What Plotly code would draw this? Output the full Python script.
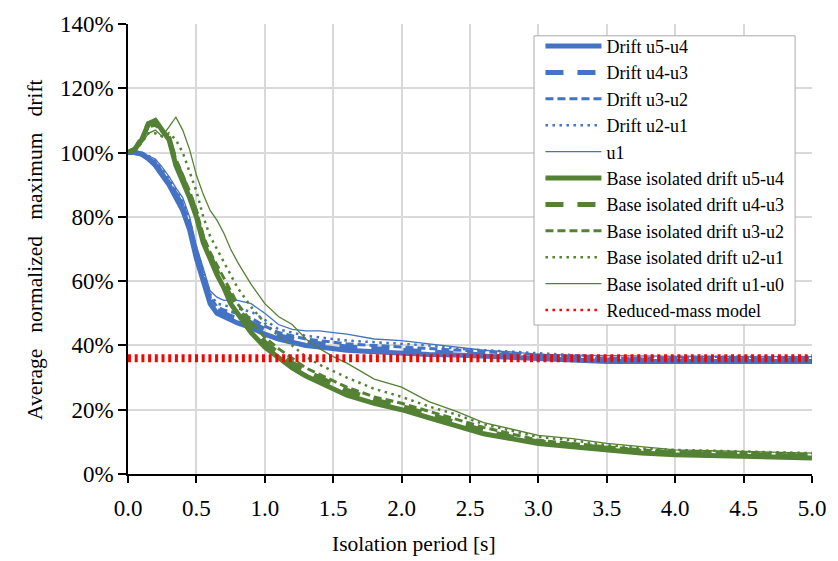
import plotly.graph_objects as go

# Isolation period [s]
period = [0, 0.05, 0.1, 0.15, 0.2, 0.25, 0.3, 0.35, 0.4, 0.45,
          0.5, 0.55, 0.6, 0.65, 0.7, 0.75, 0.8, 0.9,
          1.0, 1.1, 1.2, 1.3, 1.4, 1.5, 1.6, 1.8,
          2.0, 2.2, 2.4, 2.6, 2.8, 3.0,
          3.25, 3.5, 3.75, 4.0, 4.5, 5.0]

# Fixed-base drifts (%)
drift_u5_u4 = [100, 100, 99.5, 98, 96, 93, 90, 86, 82, 76,
               67, 60, 53, 50, 49, 48, 47, 45.5,
               43.5, 42, 41, 40, 39.5, 39, 38.5, 38,
               37.5, 37.2, 37, 36.7, 36.5, 36,
               35.5, 35, 35, 35, 35, 35]
drift_u4_u3 = [100, 100, 99.5, 98.5, 96.5, 93.5, 90, 87, 83, 77,
               68, 61, 54, 51, 50, 49, 48.5, 47,
               45, 43, 42, 41, 40.5, 40, 39.5, 39,
               38.5, 38, 37.5, 37, 37, 36.5,
               36, 35.5, 35.5, 35.5, 35.5, 35.5]
drift_u3_u2 = [100, 100, 99.5, 98.5, 97, 94, 91, 87.5, 84, 78,
               69, 62, 55, 52, 51, 50.5, 50, 48.5,
               46, 44, 43, 42, 41.5, 41, 40.5, 40,
               39.5, 39, 38.5, 38, 37.5, 37,
               36.5, 36, 36, 36, 36, 36]
drift_u2_u1 = [100, 100, 100, 99, 97.5, 95, 92, 88.5, 85, 79,
               70, 63, 56, 53, 52.5, 52, 51.5, 50.5,
               48, 45, 44, 43, 42.5, 42, 41.5, 41,
               40.5, 40, 39, 38.5, 38, 37.5,
               37, 36.5, 36.5, 36.5, 36.5, 36.5]
drift_u1 = [100, 100, 100, 99, 98, 95.5, 92.5, 89, 86, 80,
            71, 64, 57, 55, 54, 54, 54, 53,
            50, 46.5, 45, 44.5, 44.5, 44, 43.5, 42,
            41.5, 40.5, 39.5, 38.5, 38, 37.2,
            37, 36.8, 36.7, 36.6, 36.5, 36.5]

# Base-isolated drifts (%)
bi_u5_u4 = [100, 101, 104, 109, 110, 107, 104, 96, 91, 86,
            80, 72, 67, 62, 58, 53, 50, 44,
            39.5, 36, 33, 30.5, 28.5, 26.5, 24.5, 22,
            20, 17.5, 15, 12.5, 11, 9.5,
            8.5, 7.5, 6.5, 6, 5.5, 5]
bi_u4_u3 = [100, 101, 104.5, 109, 109.5, 107, 104.5, 97, 92, 87,
            81, 73, 68, 63, 59, 55, 51.5, 46,
            41, 37.5, 34.5, 32, 30, 28, 26, 23,
            21, 18.5, 16, 13.5, 11.5, 10,
            9, 8, 7, 6.5, 6, 5.5]
bi_u3_u2 = [100, 101, 104, 108, 108.5, 106.5, 104.5, 98, 93, 88,
            82, 74, 69, 65, 61, 57, 53, 47.5,
            42.5, 39, 36, 33, 31, 29, 27, 24,
            22, 19.5, 17, 14.5, 12.5, 10.5,
            9.5, 8.5, 7.5, 7, 6.5, 6]
bi_u2_u1 = [100, 100.5, 103, 106, 106, 105, 106, 104, 100, 94,
            88, 80, 74, 70, 66, 62, 58, 52,
            47, 43, 40, 36.5, 34, 32, 30, 26.5,
            24, 21, 18.5, 15.5, 13.5, 11.5,
            10.5, 9, 8, 7.5, 7, 6.5]
bi_u1_u0 = [100, 100.5, 103, 106, 107, 105, 108, 111, 107, 101,
            93, 87, 82, 79, 75, 70, 66, 59,
            53, 49, 46.5, 42, 39, 36.5, 34.5, 29.5,
            27, 22.5, 19.5, 16, 14, 12,
            11, 9.5, 8.5, 7.5, 7, 6.5]

reduced_mass_x = [0, 5.0]
reduced_mass = [36, 36]

x_ticks = [0, 0.5, 1.0, 1.5, 2.0, 2.5, 3.0, 3.5, 4.0, 4.5, 5.0]
x_tick_labels = ["0.0", "0.5", "1.0", "1.5", "2.0", "2.5", "3.0", "3.5", "4.0", "4.5", "5.0"]
y_ticks = [0, 20, 40, 60, 80, 100, 120, 140]
y_tick_labels = ["0%", "20%", "40%", "60%", "80%", "100%", "120%", "140%"]

BLUE = "#4472C4"
GREEN = "#548235"
RED = "#FF0000"
FONT = "Liberation Serif, Times New Roman, serif"

styles = [
    ("Drift u5-u4", drift_u5_u4, BLUE, 5, "solid"),
    ("Drift u4-u3", drift_u4_u3, BLUE, 5, "18px,14px"),
    ("Drift u3-u2", drift_u3_u2, BLUE, 3, "8px,4px"),
    ("Drift u2-u1", drift_u2_u1, BLUE, 2.5, "2.5px,4.5px"),
    ("u1", drift_u1, BLUE, 1.3, "solid"),
    ("Base isolated drift u5-u4", bi_u5_u4, GREEN, 5, "solid"),
    ("Base isolated drift u4-u3", bi_u4_u3, GREEN, 5, "18px,14px"),
    ("Base isolated drift u3-u2", bi_u3_u2, GREEN, 3, "8px,4px"),
    ("Base isolated drift u2-u1", bi_u2_u1, GREEN, 2.5, "2.5px,4.5px"),
    ("Base isolated drift u1-u0", bi_u1_u0, GREEN, 1.3, "solid"),
]

fig = go.Figure()
for name, ys, color, w, dash in styles:
    fig.add_trace(go.Scatter(x=period, y=ys, mode="lines", name=name,
                             line=dict(color=color, width=w, dash=dash)))

# red reduced-mass line (plot) and legend entry
fig.add_trace(go.Scatter(x=reduced_mass_x, y=reduced_mass, mode="lines",
                         showlegend=False, hoverinfo="skip",
                         line=dict(color=RED, width=8, dash="3px,3.7px")))
fig.add_trace(go.Scatter(x=[None], y=[None], mode="lines", name="Reduced-mass model",
                         line=dict(color=RED, width=2.5, dash="2.5px,4.5px")))

tick_font = dict(family=FONT, size=23, color="black")

fig.update_layout(
    width=838, height=561,
    margin=dict(l=128, r=21, t=18, b=87),
    paper_bgcolor="white", plot_bgcolor="white",
    font=dict(family=FONT, size=22, color="black"),
    showlegend=True,
    legend=dict(x=0.603, y=0.9915, xanchor="left", yanchor="top",
                bgcolor="rgba(0,0,0,0)", borderwidth=0,
                font=dict(family=FONT, size=18, color="black"),
                itemwidth=56, tracegroupgap=0),
    shapes=[
        dict(type="rect", xref="paper", yref="paper",
             x0=0.5936, x1=0.9753, y0=0.3311, y1=0.9737,
             fillcolor="white", line=dict(color="#ABABAB", width=1), layer="above"),
    ],
    xaxis=dict(range=[0, 5.0], tickmode="array", tickvals=x_ticks, ticktext=x_tick_labels,
               tickfont=tick_font, ticklabelstandoff=6,
               showgrid=True, gridcolor="#D9D9D9", gridwidth=1.8,
               showline=True, linecolor="black", linewidth=1.5,
               ticks="outside", ticklen=7, tickcolor="black", tickwidth=1.5,
               zeroline=False),
    yaxis=dict(range=[0, 140], tickmode="array", tickvals=y_ticks, ticktext=y_tick_labels,
               tickfont=tick_font,
               showgrid=True, gridcolor="#D9D9D9", gridwidth=1.8,
               showline=True, linecolor="black", linewidth=1.5,
               ticks="outside", ticklen=8, tickcolor="black", tickwidth=1.5,
               zeroline=False),
    annotations=[
        dict(text="Isolation period [s]", xref="paper", yref="paper",
             x=0.418, y=-0.155, xanchor="center", yanchor="middle",
             showarrow=False, font=dict(family=FONT, size=21.5, color="black")),
        dict(text="Average   normalized   maximum   drift", xref="paper", yref="paper",
             x=-0.136, y=0.5, xanchor="center", yanchor="middle", textangle=-90,
             showarrow=False, font=dict(family=FONT, size=21.5, color="black")),
    ],
)

fig.write_html("out.html")
